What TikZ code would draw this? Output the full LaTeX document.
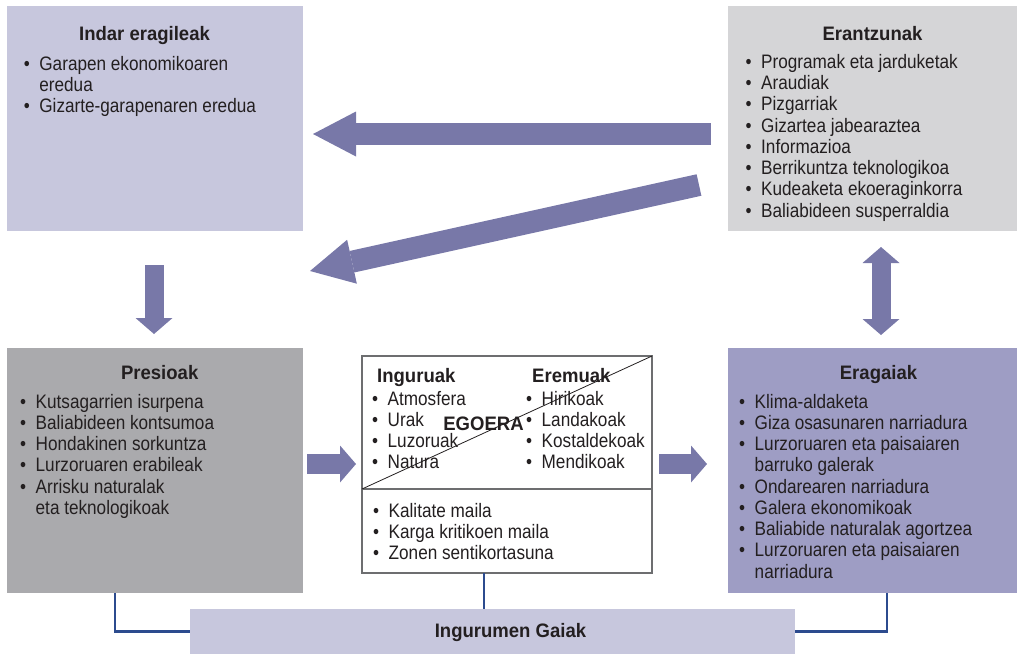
\documentclass[tikz,border=0pt]{standalone}
\usepackage{fontspec}
\setmainfont{Liberation Sans}[FakeStretch=0.88]
\newfontfamily\headfont{Liberation Sans}[FakeStretch=0.95]
\usetikzlibrary{arrows.meta}

\definecolor{indarfill}{HTML}{C7C7DD}
\definecolor{erantzunfill}{HTML}{D5D5D7}
\definecolor{presiofill}{HTML}{AAAAAD}
\definecolor{eragaifill}{HTML}{9E9DC4}
\definecolor{arrowfill}{HTML}{7878A8}
\definecolor{linkblue}{HTML}{2C4B8E}
\definecolor{ink}{HTML}{231F20}
\definecolor{frame}{HTML}{6D6E70}

\newcommand{\blist}[1]{\begin{tabular}[t]{@{}l@{\hspace{9.5pt}}l@{}}#1\end{tabular}}
\newcommand{\itm}{\textbullet&}

\begin{document}
\begin{tikzpicture}[x=1pt,y=-1pt,
    panel/.style ={rectangle, inner sep=0pt, outer sep=0pt, anchor=north west},
    heading/.style ={inner sep=0pt, anchor=base, text=ink, font=\headfont\bfseries\fontsize{19.5}{21.25}\selectfont},
    bullets/.style ={inner sep=0pt, anchor=base west, text=ink, font=\fontsize{19.5}{21.25}\selectfont},
    fatarrow/.style ={draw=arrowfill, line width=22pt, -{Triangle[length=43pt,width=45pt,line width=0pt]}},
    stubarrow/.style ={draw=arrowfill, line width=19pt, -{Triangle[length=16pt,width=37pt,line width=0pt]}},
    link/.style ={draw=linkblue, line width=2.2pt}]
   \useasboundingbox (0,0) rectangle (1018,654);

   % boxes
   \node[panel, fill=indarfill, minimum width=296pt, minimum height=225pt] (indar) at (7,6) {};
   \node[panel, fill=erantzunfill, minimum width=289pt, minimum height=225pt] (erantzun) at (728,6) {};
   \node[panel, fill=presiofill, minimum width=296pt, minimum height=245pt] (presio) at (7,348) {};
   \node[panel, fill=eragaifill, minimum width=289pt, minimum height=245pt] (eragai) at (728,348) {};
   \node[panel, draw=frame, line width=1.2pt, fill=white, minimum width=290pt, minimum height=217pt] (egoera) at (362,356) {};
   \node[panel, fill=indarfill, minimum width=605pt, minimum height=45pt] (gaiak) at (190,609) {};

   \coordinate (split) at (egoera.west |- 0,489);
   \draw[frame, line width=1.2pt] (split) -- (egoera.east |- split);
   \draw[ink, line width=0.8pt] (split) -- (egoera.north east);

   % texts
   \node[heading] (indarT) at (144.5,40) {Indar eragileak};
   \node[bullets] (indarL) at (23.7,70) {\blist{\itm Garapen ekonomikoaren\\ & eredua\\ \itm Gizarte-garapenaren eredua}};

   \node[heading] (erantzunT) at (872.5,40) {Erantzunak};
   \node[bullets] (erantzunL) at (745.5,68.3) {\blist{\itm Programak eta jarduketak\\ \itm Araudiak\\ \itm Pizgarriak\\
      \itm Gizartea jabearaztea\\ \itm Informazioa\\ \itm Berrikuntza teknologikoa\\
      \itm Kudeaketa ekoeraginkorra\\ \itm Baliabideen susperraldia}};

   \node[heading] (presioT) at (159.7,379) {Presioak};
   \node[bullets] (presioL) at (20,408) {\blist{\itm Kutsagarrien isurpena\\ \itm Baliabideen kontsumoa\\
      \itm Hondakinen sorkuntza\\ \itm Lurzoruaren erabileak\\ \itm Arrisku naturalak\\ & eta teknologikoak}};

   \node[heading] (eragaiT) at (878.5,379) {Eragaiak};
   \node[bullets] (eragaiL) at (739,408) {\blist{\itm Klima-aldaketa\\ \itm Giza osasunaren narriadura\\
      \itm Lurzoruaren eta paisaiaren\\ & barruko galerak\\ \itm Ondarearen narriadura\\
      \itm Galera ekonomikoak\\ \itm Baliabide naturalak agortzea\\ \itm Lurzoruaren eta paisaiaren\\ & narriadura}};

   \node[heading, anchor=base west] (inguruT) at (377,382.7) {Inguruak};
   \node[heading, anchor=base west] (eremuT) at (532,382.7) {Eremuak};
   \node[heading] (egoeraT) at (483.5,430.7) {EGOERA};
   \node[bullets] (inguruL) at (372,405) {\blist{\itm Atmosfera\\ \itm Urak\\ \itm Luzoruak\\ \itm Natura}};
   \node[bullets] (eremuL) at (526,405) {\blist{\itm Hirikoak\\ \itm Landakoak\\ \itm Kostaldekoak\\ \itm Mendikoak}};
   \node[bullets] (mailaL) at (373,517) {\blist{\itm Kalitate maila\\ \itm Karga kritikoen maila\\ \itm Zonen sentikortasuna}};

   \node[heading] (gaiakT) at (510.5,637) {Ingurumen Gaiak};

   % arrows
   \coordinate (backA) at (711,134);
   \coordinate (backB) at (313,134);
   \coordinate (slantA) at (699,185);
   \coordinate (slantB) at (310,271);
   \coordinate (downA) at (154,265);
   \coordinate (downB) at (154,334);
   \coordinate (bothA) at (881,247);
   \coordinate (bothB) at (881,335);
   \coordinate (inA) at (307,464);
   \coordinate (inB) at (356,464);
   \coordinate (outA) at (659,464);
   \coordinate (outB) at (707,464);

   \draw[fatarrow] (backA) -- (backB);
   \draw[fatarrow] (slantA) -- (slantB);
   \draw[stubarrow] (downA) -- (downB);
   \draw[stubarrow, {Triangle[length=16pt,width=37pt,line width=0pt]}-{Triangle[length=16pt,width=37pt,line width=0pt]}] (bothA) -- (bothB);
   \draw[stubarrow, line width=20pt] (inA) -- (inB);
   \draw[stubarrow, line width=20pt] (outA) -- (outB);

   % links to the bottom box
   \draw[link] (115,0 |- presio.south) |- (gaiak.west);
   \draw[link] (484,0 |- egoera.south) -- (484,0 |- gaiak.north);
   \draw[link] (887,0 |- eragai.south) |- (gaiak.east);
 \end{tikzpicture}
\end{document}
